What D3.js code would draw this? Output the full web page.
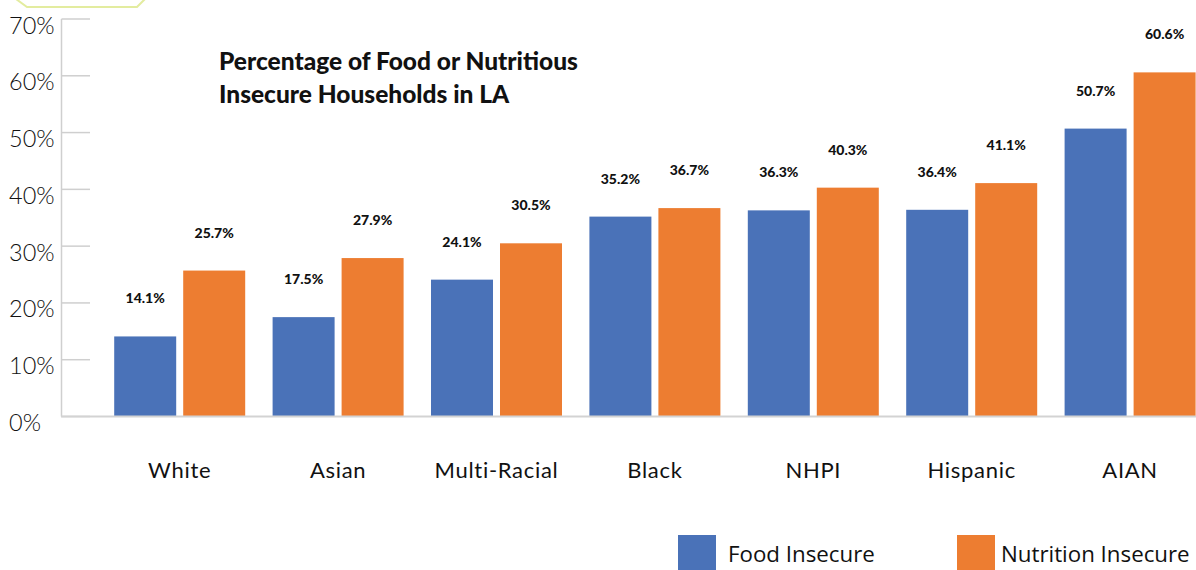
<!DOCTYPE html>
<html>
<head>
<meta charset="utf-8">
<script src="https://cdn.jsdelivr.net/npm/d3@7"></script>
<style>
  html, body { margin: 0; padding: 0; background: #fff; }
  svg { display: block; }
</style>
</head>
<body>
<svg id="chart" width="1196" height="570"></svg>
<script>
const categories = ["White", "Asian", "Multi-Racial", "Black", "NHPI", "Hispanic", "AIAN"];
const seriesNames = ["Food Insecure", "Nutrition Insecure"];
const foodInsecure = [14.1, 17.5, 24.1, 35.2, 36.3, 36.4, 50.7];
const nutritionInsecure = [25.7, 27.9, 30.5, 36.7, 40.3, 41.1, 60.6];
const yTicks = [0, 10, 20, 30, 40, 50, 60, 70];
const titleLines = ["Percentage of Food or Nutritious", "Insecure Households in LA"];
const colors = ["#4a72b8", "#ed7d31"];

const svg = d3.select("#chart");
const font = "Lato, 'Open Sans', sans-serif";

// decorative outline at top-left
svg.append("polyline")
  .attr("points", "16,-1 27,7 137,7 145,-1")
  .attr("fill", "none")
  .attr("stroke", "#e3ec9f")
  .attr("stroke-width", 2);

const y = d3.scaleLinear().domain([0, 70]).range([416.5, 19]);
const x0 = d3.scaleBand().domain(categories).range([100.5, 1209.3])
  .paddingInner(0.173).paddingOuter(0.0865);
const x1 = d3.scaleBand().domain(seriesNames).range([0, x0.bandwidth()]).paddingInner(0.1015);

// y axis line
svg.append("line")
  .attr("x1", 61.5).attr("x2", 61.5)
  .attr("y1", y(70)).attr("y2", y(0))
  .attr("stroke", "#cfcfcf").attr("stroke-width", 1.5);

// ticks
const tg = svg.append("g");
tg.selectAll("line").data(yTicks).join("line")
  .attr("x1", 61.5).attr("x2", 90)
  .attr("y1", d => y(d)).attr("y2", d => y(d))
  .attr("stroke", "#cfcfcf").attr("stroke-width", 1.5);
tg.selectAll("text").data(yTicks).join("text")
  .attr("x", 9).attr("y", d => y(d) + 14.5)
  .attr("font-family", font).attr("font-weight", 300)
  .attr("font-size", 23.5).attr("fill", "#111")
  .text(d => d + "%");

// bars
const data = categories.map((c, i) => ({ cat: c, vals: [foodInsecure[i], nutritionInsecure[i]] }));
const groups = svg.append("g").selectAll("g").data(data).join("g")
  .attr("transform", d => `translate(${x0(d.cat)},0)`);
groups.selectAll("rect").data(d => d.vals.map((v, j) => ({ s: seriesNames[j], v, j })))
  .join("rect")
  .attr("x", d => x1(d.s)).attr("width", x1.bandwidth())
  .attr("y", d => y(d.v)).attr("height", d => y(0) - y(d.v))
  .attr("fill", d => colors[d.j]);
groups.selectAll("text").data(d => d.vals.map((v, j) => ({ s: seriesNames[j], v, j })))
  .join("text")
  .attr("x", d => x1(d.s) + x1.bandwidth() / 2)
  .attr("y", d => y(d.v) - 33)
  .attr("text-anchor", "middle")
  .attr("font-family", font).attr("font-weight", 900)
  .attr("font-size", 14).attr("fill", "#111")
  .text(d => d.v.toFixed(1) + "%");

// baseline
svg.append("line")
  .attr("x1", 61).attr("x2", 1196)
  .attr("y1", y(0)).attr("y2", y(0))
  .attr("stroke", "#d3d3d3").attr("stroke-width", 2);

// category labels
svg.append("g").selectAll("text").data(categories).join("text")
  .attr("x", d => x0(d) + x0.bandwidth() / 2)
  .attr("y", 478)
  .attr("text-anchor", "middle")
  .attr("font-family", font).attr("font-size", 22)
  .attr("letter-spacing", 0.7).attr("fill", "#111")
  .text(d => d);

// title
svg.append("g").selectAll("text").data(titleLines).join("text")
  .attr("x", 219).attr("y", (d, i) => 70 + i * 33)
  .attr("font-family", font).attr("font-weight", 900)
  .attr("font-size", 24.5).attr("fill", "#111")
  .text(d => d);

// legend
const legendX = [678, 957];
const legendTextX = [728, 1001];
const lg = svg.append("g").selectAll("g").data(seriesNames).join("g");
lg.append("rect")
  .attr("x", (d, i) => legendX[i]).attr("y", 535)
  .attr("width", 38).attr("height", 36).attr("fill", (d, i) => colors[i]);
lg.append("text")
  .attr("x", (d, i) => legendTextX[i]).attr("y", 562)
  .attr("font-family", "'Open Sans', sans-serif").attr("font-size", 22.3).attr("fill", "#111")
  .text(d => d);
</script>
</body>
</html>
